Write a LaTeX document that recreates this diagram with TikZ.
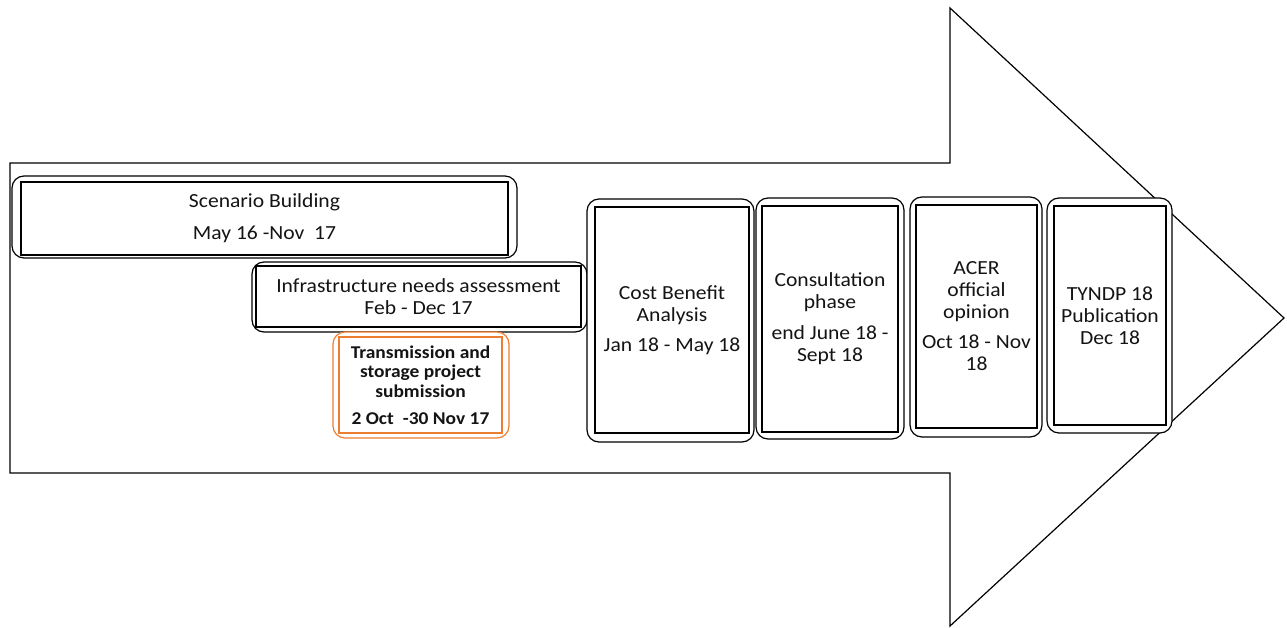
\documentclass[tikz,border=0pt]{standalone}
\usepackage{fontspec}
\setmainfont{Carlito}[FakeStretch=1.08]
\definecolor{offorange}{RGB}{237,125,49}
\definecolor{textgray}{RGB}{20,20,20}
\tikzset{
  arrowline/.style={draw=black, line width=1.2pt, line join=miter},
  outerbox/.style={draw=black, fill=white, line width=1.2pt, rounded corners=12pt, inner sep=0pt},
  innerbox/.style={draw=black, line width=1.3pt, inner sep=0pt, align=center, text=textgray,
    font=\fontsize{20}{22}\selectfont},
  orangeouter/.style={outerbox, draw=offorange},
  orangeinner/.style={innerbox, draw=offorange, font=\bfseries\fontsize{18}{19.5}\selectfont},
}
\begin{document}
\begin{tikzpicture}[x=1pt,y=-1pt]
\useasboundingbox (0,0) rectangle (1287,628);
% big arrow
\draw[arrowline] (10,163) -- (950,163) -- (950,8) -- (1284,318) -- (950,626) -- (950,473) -- (10,473) -- cycle;

% Scenario Building
\node[outerbox, minimum width=505pt, minimum height=82pt] (sbo) at (264.5,217) {};
\node[innerbox, minimum width=487pt, minimum height=73pt] (sb) at (264.5,218.5)
  {Scenario Building\\[10pt]May 16 -Nov\ \ 17};

% Infrastructure
\node[outerbox, minimum width=335pt, minimum height=70pt] (ino) at (419.5,297) {};
\node[innerbox, minimum width=325pt, minimum height=61pt] (in) at (418.5,296.5)
  {Infrastructure needs assessment\\Feb - Dec 17};

% Transmission
\node[orangeouter, minimum width=176pt, minimum height=106pt] (tro) at (421,385) {};
\node[orangeinner, minimum width=163pt, minimum height=96pt] (tr) at (420.5,385)
  {Transmission and\\storage project\\submission\\[8pt]2 Oct\enspace-30 Nov 17};

% CBA
\node[outerbox, minimum width=167pt, minimum height=243pt] (cbo) at (670.5,320.5) {};
\node[innerbox, minimum width=154pt, minimum height=226pt] (cb) at (672,320)
  {Cost Benefit\\Analysis\\[8pt]Jan 18 - May 18};

% Consultation
\node[outerbox, minimum width=148pt, minimum height=241pt] (coo) at (830,318.5) {};
\node[innerbox, minimum width=136pt, minimum height=226pt] (co) at (830,319)
  {Consultation\\phase\\[9pt]end June 18 -\\Sept 18};

% ACER
\node[outerbox, minimum width=132pt, minimum height=240pt] (aco) at (976,317) {};
\node[innerbox, minimum width=121pt, minimum height=223pt] (ac) at (976.5,316.5)
  {ACER\\official\\opinion\\[8pt]Oct 18 - Nov\\18};

% TYNDP
\node[outerbox, minimum width=125pt, minimum height=235pt] (tyo) at (1109.5,315.5) {};
\node[innerbox, minimum width=112pt, minimum height=219pt] (ty) at (1110,315.5)
  {TYNDP 18\\Publication\\Dec 18};
\end{tikzpicture}
\end{document}
